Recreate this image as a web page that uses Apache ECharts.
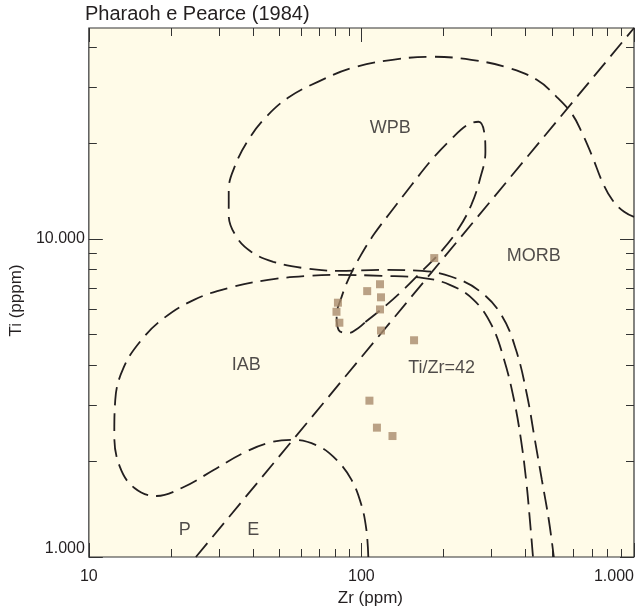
<!DOCTYPE html>
<html>
<head>
<meta charset="utf-8">
<script src="https://cdn.jsdelivr.net/npm/echarts@6/dist/echarts.min.js"></script>
<style>
html,body{margin:0;padding:0;background:#fff;}
#chart{width:641px;height:613px;}
</style>
</head>
<body>
<div id="chart"></div>
<script>
// ---- sample points (Zr ppm, Ti ppm) ----
const sampleZr = [185, 117, 105, 118, 82, 117, 81, 83, 118, 156, 107, 114, 130];
const sampleTi = [8700, 7200, 6850, 6550, 6300, 6000, 5900, 5450, 5150, 4800, 3100, 2550, 2400];

// ---- field boundaries [Zr, Ti] ----
const wpbBoundary = [
  [1000, 11730], [920, 12160], [832, 13270], [765, 15110], [704, 18110], [647, 21390],
  [595, 24550], [520, 27960], [440, 31620], [345, 34490], [253, 36550], [181, 37360],
  [130, 36550], [92.7, 34490], [69.2, 31160], [53.8, 27760], [44.4, 24020], [38.5, 20480],
  [34.5, 17090], [32.6, 14260], [32.6, 11900], [34.8, 10150], [39.5, 9100], [47.5, 8470],
  [61, 8100], [83.2, 7930], [119, 7990], [167, 7930], [214, 7600], [271, 6860],
  [326, 5770], [369, 4480], [405, 3230], [433, 2330], [459, 1750], [487, 1307], [508, 1000]
];
const wpbInnerLoop = [
  [103.4, 5480], [119, 6030], [141, 6860], [167, 7930], [197, 9170], [227, 10750],
  [253, 12790], [273, 15550], [285, 18770], [282, 21700], [269, 23340], [245, 22830],
  [214, 20630], [181, 17720], [153, 14790], [130, 12340], [111.5, 10370], [99.2, 8840],
  [90.4, 7600], [84.6, 6570], [81.1, 5730], [82.5, 5170], [89.7, 5060], [97.5, 5250], [103.4, 5480]
];
const iabBoundary = [
  [106, 1000], [104.3, 1216], [100, 1457], [92, 1747], [81.1, 2018], [69.2, 2234],
  [56.1, 2333], [45.5, 2283], [36.9, 2123], [28.7, 1877], [22.3, 1660], [17.7, 1555],
  [14.7, 1648], [13.0, 1919], [12.4, 2419], [12.5, 3116], [13.4, 3929], [15.6, 4813],
  [18.9, 5644], [24.3, 6432], [32.6, 7013], [45.5, 7431], [63.6, 7650], [83.2, 7705],
  [119, 7650], [167, 7540], [211, 7170], [258, 6430], [300, 5365], [334, 4163],
  [363, 3116], [385, 2333], [402, 1747], [415, 1307], [426, 1000]
];
const ratioLine = [[24.7, 1000], [1000, 46000]];

// ---- annotations ----
const annotationText = ['WPB', 'MORB', 'IAB', 'Ti/Zr=42', 'P', 'E'];
const annotationZr = [127.5, 429, 37.8, 197, 22.5, 40.1];
const annotationTi = [22340, 8840, 4016, 3926, 1216, 1216];

// ---- axes ----
const xMin = 10, xMax = 1000, yMin = 1000, yMax = 46000;
const xMajorTicks = [10, 100, 1000];
const xTickLabels = ['10', '100', '1.000'];
const xMinorTicks = [20, 30, 40, 50, 60, 70, 80, 90, 200, 300, 400, 500, 600, 700, 800, 900];
const yMajorTicks = [1000, 10000];
const yTickLabels = ['1.000', '10.000'];
const yMinorTicks = [2000, 3000, 4000, 5000, 6000, 7000, 8000, 9000, 20000, 30000, 40000];

const FONT = "'Liberation Sans', Arial, Helvetica, sans-serif";
const TXT = '#231f20';
const LINE = '#231f20';
const AX = '#333333';

function lbl(values, labels) {
  return function (v) {
    for (let i = 0; i < values.length; i++) {
      if (Math.abs(v - values[i]) / values[i] < 1e-6) return labels[i];
    }
    return '';
  };
}

function axisBase(min, max, pos) {
  return {
    type: 'log', logBase: 10, min: min, max: max, position: pos,
    axisLine: { show: false, onZero: false },
    splitLine: { show: false },
    minorTick: { show: false },
    axisLabel: { show: false },
    axisTick: { show: false }
  };
}
function tickAxis(min, max, pos, values, len) {
  const a = axisBase(min, max, pos);
  a.axisTick = { show: true, inside: true, length: len, customValues: values, lineStyle: { color: AX, width: 1 } };
  return a;
}

const xMain = tickAxis(xMin, xMax, 'bottom', xMajorTicks, 14);
xMain.axisLabel = {
  show: true, customValues: xMajorTicks, formatter: lbl(xMajorTicks, xTickLabels),
  margin: 12, fontSize: 16, color: TXT, fontFamily: FONT, alignMaxLabel: 'right', showMaxLabel: true, showMinLabel: true
};
xMain.name = 'Zr (ppm)';
xMain.nameLocation = 'middle';
xMain.nameGap = 33;
xMain.nameTextStyle = { fontSize: 17, color: TXT, fontFamily: FONT, padding: [0, 0, 0, 18] };

const yMain = tickAxis(yMin, yMax, 'left', yMajorTicks, 14);
yMain.axisLabel = {
  show: true, customValues: yMajorTicks, formatter: lbl(yMajorTicks, yTickLabels),
  margin: 4, fontSize: 16, color: TXT, fontFamily: FONT, verticalAlignMinLabel: 'bottom', showMaxLabel: true, showMinLabel: true
};
yMain.name = 'Ti (pppm)';
yMain.nameLocation = 'middle';
yMain.nameRotate = 90;
yMain.nameGap = 55;
yMain.nameTextStyle = { fontSize: 17, color: TXT, fontFamily: FONT, padding: [0, 16, 0, 0] };

const option = {
  animation: false,
  backgroundColor: '#ffffff',
  textStyle: { fontFamily: FONT },
  title: {
    text: 'Pharaoh e Pearce (1984)', left: 85, top: 4, padding: 0,
    textStyle: { fontSize: 20, fontWeight: 'normal', color: TXT, fontFamily: FONT }
  },
  grid: {
    left: 84, right: 7, top: 28, bottom: 56, show: true,
    backgroundColor: '#fffbe8', borderColor: AX, borderWidth: 1.2
  },
  xAxis: [
    xMain,
    tickAxis(xMin, xMax, 'bottom', xMinorTicks, 8),
    tickAxis(xMin, xMax, 'top', xMajorTicks, 14),
    tickAxis(xMin, xMax, 'top', xMinorTicks, 8)
  ],
  yAxis: [
    yMain,
    tickAxis(yMin, yMax, 'left', yMinorTicks, 8),
    tickAxis(yMin, yMax, 'right', yMajorTicks, 14),
    tickAxis(yMin, yMax, 'right', yMinorTicks, 8)
  ],
  series: []
};

const dashStyle = { color: LINE, width: 1.8, type: [18, 8] };
function curve(data, smooth) {
  return {
    type: 'line', data: data, smooth: smooth, showSymbol: false, symbol: 'none',
    lineStyle: dashStyle, silent: true, clip: true, z: 3
  };
}
option.series.push(curve(ratioLine, false));
option.series.push(curve(wpbBoundary, 0.4));
option.series.push(curve(wpbInnerLoop, 0.4));
option.series.push(curve(iabBoundary, 0.4));

option.series.push({
  type: 'scatter', symbol: 'rect', symbolSize: 8,
  itemStyle: { color: '#a98b6c' },
  data: sampleZr.map((z, i) => [z, sampleTi[i]]),
  z: 5
});

option.series.push({
  type: 'scatter', symbolSize: 0, silent: true,
  data: annotationText.map((t, i) => ({ name: t, value: [annotationZr[i], annotationTi[i]] })),
  label: {
    show: true, position: 'inside', formatter: p => p.name,
    fontSize: 18, color: TXT, fontFamily: FONT
  },
  z: 6
});

const chart = echarts.init(document.getElementById('chart'), null, { renderer: 'canvas' });
chart.setOption(option);
</script>
</body>
</html>
